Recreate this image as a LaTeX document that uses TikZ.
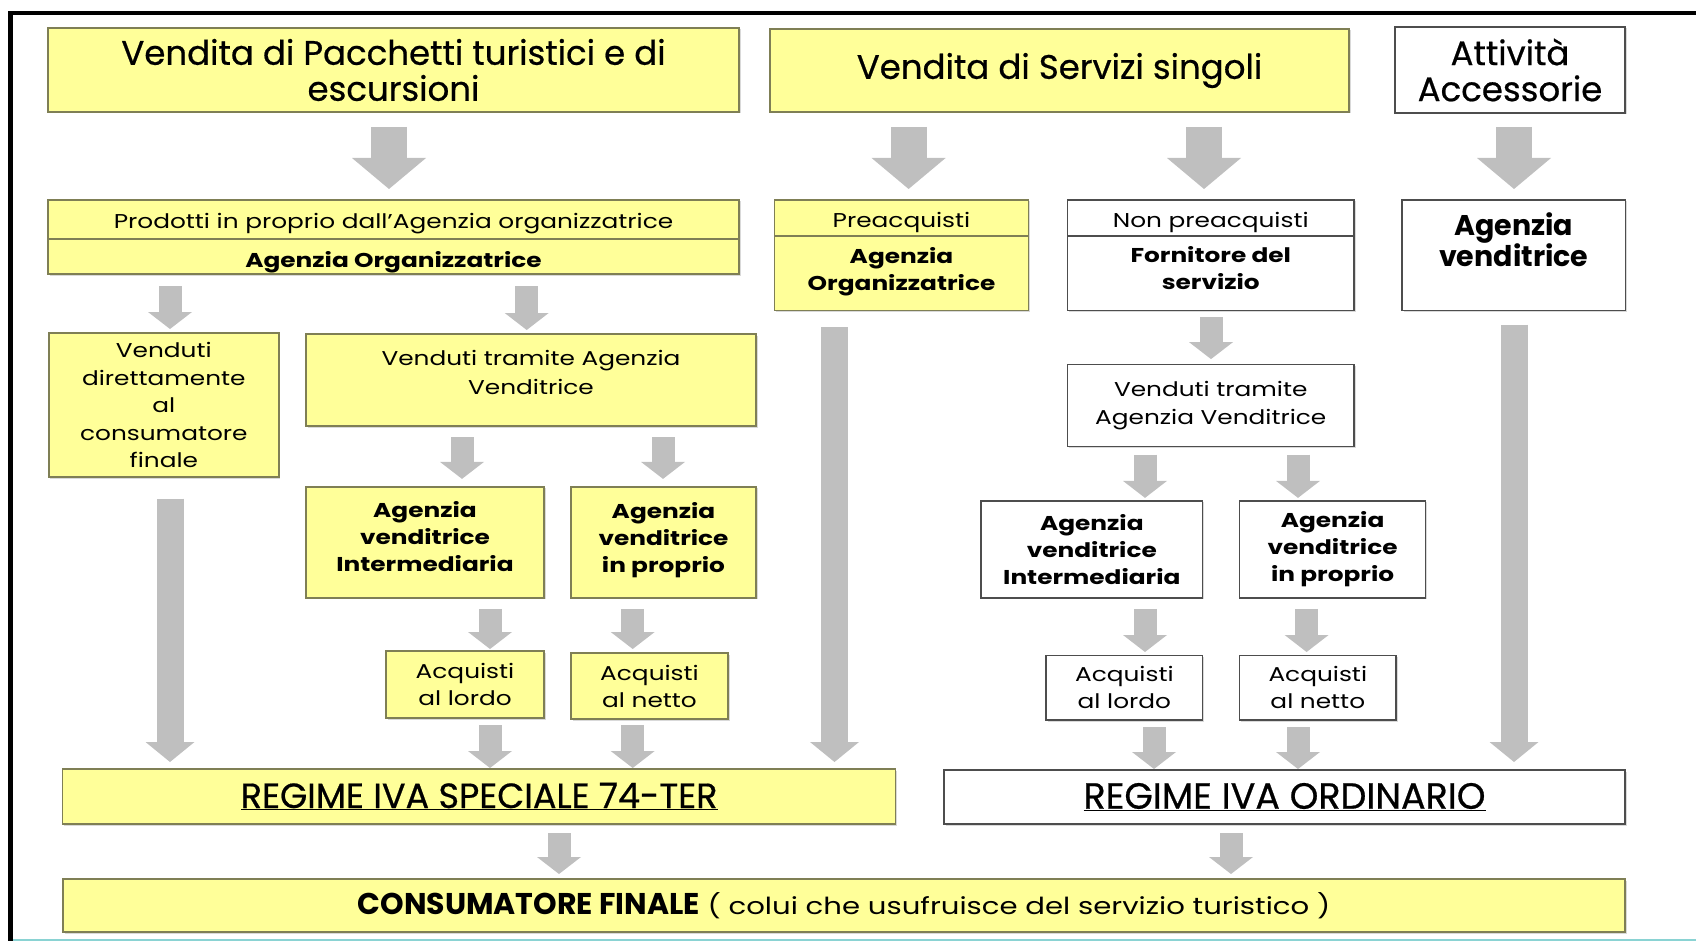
\documentclass[tikz,border=0pt]{standalone}
\usepackage{fontspec}
\setmainfont{Poppins}[FakeStretch=1.24]
\newfontfamily\titlefont[FakeBold=0.6]{Poppins}
\newfontfamily\plainfont{Poppins}
\usetikzlibrary{arrows.meta,positioning,shadows}
\definecolor{boxyellow}{HTML}{FFFF99}
\definecolor{yborder}{HTML}{7F7F55}
\definecolor{wborder}{HTML}{4D4D4D}
\definecolor{arrowgray}{HTML}{BFBFBF}
\definecolor{pagecyan}{HTML}{8AD3D3}
\newcommand{\fs}[2]{\fontsize{#1}{#2}\selectfont}

\begin{document}
\begin{tikzpicture}[line join=miter,x=1pt,y=-1pt,
  ybox/.style={draw=yborder,fill=boxyellow,line width=1.5pt,inner sep=0pt,outer sep=0pt,align=center,
    drop shadow={shadow xshift=1.5pt,shadow yshift=-1.5pt,opacity=0.3}},
  wbox/.style={ybox,draw=wborder,fill=white},
  bigarrow/.style={draw=arrowgray,line width=36pt,line cap=butt,-{Triangle[width=74pt,length=31pt,line width=0pt]}},
  smallarrow/.style={draw=arrowgray,line width=23pt,line cap=butt,-{Triangle[width=44pt,length=17pt,line width=0pt]}},
  longarrow/.style={draw=arrowgray,line width=27pt,line cap=butt,-{Triangle[width=49pt,length=20pt,line width=0pt]}}]
\useasboundingbox (0,0) rectangle (1696,941);
\draw [line width=4.5pt] (10.5,941)-- (10.5,13)-- (1696,13);
\draw [pagecyan,line width=1.5pt] (13,940)-- (1696,940);

\node[ybox,minimum width=691,minimum height=84,font={\titlefont\fs{34}{36}}] (pack) at (393.5,70) {Vendita di Pacchetti turistici e di\\escursioni};
\node[ybox,minimum width=579,minimum height=83,font={\titlefont\fs{34}{36}}] (serv) at (1059.5,70.5) {Vendita di Servizi singoli};
\node[wbox,minimum width=230,minimum height=86,font={\titlefont\fs{34}{36}}] (acc) at (1510,70) {Attività\\Accessorie};

\node[ybox,minimum width=691,minimum height=39,text height=23pt,text depth=5pt,font={\fs{20}{27}}] (prodtop) at (393.5,219.5) {Prodotti in proprio dall'Agenzia organizzatrice};
\node[ybox,minimum width=691,minimum height=35,text height=27pt,text depth=5pt,font={\bfseries\fs{20}{27}},below=0pt of prodtop] (prodorg) {Agenzia Organizzatrice};
\node[ybox,minimum width=254,minimum height=36,text height=25pt,text depth=5pt,font={\fs{20}{27}}] (pretop) at (901.5,218) {Preacquisti};
\node[ybox,minimum width=254,minimum height=74.5,font={\bfseries\fs{20}{27}},below=0pt of pretop] (preorg) {Agenzia\\Organizzatrice\\[-18pt]\mbox{}};
\node[wbox,minimum width=286.5,minimum height=36,text height=25pt,text depth=5pt,font={\fs{20}{27}}] (nonpre) at (1210.75,218) {Non preacquisti};
\node[wbox,minimum width=286.5,minimum height=74.5,font={\bfseries\fs{20}{27}},below=0pt of nonpre] (forn) {Fornitore del\\servizio\\[-17pt]\mbox{}};
\node[wbox,minimum width=223.5,minimum height=110.5,font={\plainfont\bfseries\fs{28.5}{31}}] (agvend) at (1513.75,255.25) {Agenzia\\venditrice\\\mbox{}};

\node[ybox,minimum width=230,minimum height=144,font={\fs{20}{27.5}}] (diretti) at (163.85,405) {Venduti\\direttamente\\al\\consumatore\\finale};
\node[ybox,minimum width=450,minimum height=92,font={\fs{20}{29}}] (tramite) at (531,380) {Venduti tramite Agenzia\\Venditrice\\[-14pt]\mbox{}};
\node[wbox,minimum width=286.5,minimum height=82,font={\fs{20}{28}}] (tramiteb) at (1210.75,405.6) {Venduti tramite\\Agenzia Venditrice};

\node[ybox,minimum width=238,minimum height=111,font={\bfseries\fs{20}{27}}] (intermA) at (425,542.4) {Agenzia\\venditrice\\Intermediaria\\[-16pt]\mbox{}};
\node[ybox,minimum width=185,minimum height=111,font={\bfseries\fs{20}{27}}] (propA) at (663.5,542.4) {Agenzia\\venditrice\\in proprio\\[-18pt]\mbox{}};
\node[wbox,minimum width=221.7,minimum height=97,font={\bfseries\fs{20}{27}}] (intermB) at (1091.85,549.4) {Agenzia\\venditrice\\Intermediaria};
\node[wbox,minimum width=186,minimum height=97,font={\bfseries\fs{20}{27}}] (propB) at (1332.6,549.4) {Agenzia\\venditrice\\in proprio};

\node[ybox,minimum width=158,minimum height=67,font={\fs{20}{27}}] (lordoA) at (465,684.5) {Acquisti\\al lordo};
\node[ybox,minimum width=157,minimum height=66,font={\fs{20}{27}}] (nettoA) at (649.5,686) {Acquisti\\al netto};
\node[wbox,minimum width=156.7,minimum height=64.5,font={\fs{20}{27}}] (lordoB) at (1124.35,687.75) {Acquisti\\al lordo};
\node[wbox,minimum width=156.4,minimum height=64.5,font={\fs{20}{27}}] (nettoB) at (1317.8,687.75) {Acquisti\\al netto};

\node[ybox,minimum width=833,minimum height=55,font={\titlefont\fs{35}{36}}] (speciale) at (479.15,796.5) {\underline{REGIME IVA SPECIALE 74-TER}};
\node[wbox,minimum width=681,minimum height=54,font={\titlefont\fs{36.5}{36}}] (ordinario) at (1284.5,797) {\underline{REGIME IVA ORDINARIO}};
\node[ybox,minimum width=1562,minimum height=53,font={\fs{23.5}{27}}] (finale) at (844,905.5) {{\plainfont\bfseries\fs{30}{30}CONSUMATORE FINALE} ( colui che usufruisce del servizio turistico )};

\coordinate (xpack) at (389,0);
\coordinate (xpre) at (908.6,0);
\coordinate (xnon) at (1204,0);
\coordinate (xacc) at (1514,0);
\coordinate (xdir) at (170,0);
\coordinate (xtra) at (526.7,0);
\coordinate (xorg) at (834.5,0);
\coordinate (xforn) at (1211,0);
\coordinate (xintA) at (462,0);
\coordinate (xpropA) at (663,0);
\coordinate (xintB) at (1145,0);
\coordinate (xpropB) at (1298,0);
\coordinate (xlorA) at (490,0);
\coordinate (xnetA) at (632.7,0);
\coordinate (xlorB) at (1154,0);
\coordinate (xnetB) at (1306.6,0);
\coordinate (xspec) at (559,0);
\coordinate (xord) at (1231,0);

\draw [bigarrow,shorten <=15pt,shorten >=11pt] (xpack |- pack.south)-- (xpack |- prodtop.north);
\draw [bigarrow,shorten <=15pt,shorten >=11pt] (xpre |- serv.south)-- (xpre |- pretop.north);
\draw [bigarrow,shorten <=15pt,shorten >=11pt] (xnon |- serv.south)-- (xnon |- nonpre.north);
\draw [bigarrow,shorten <=14pt,shorten >=11pt] (xacc |- acc.south)-- (xacc |- agvend.north);

\draw [smallarrow,shorten <=12pt,shorten >=4pt] (xdir |- prodorg.south)-- (xdir |- diretti.north);
\draw [smallarrow,shorten <=12pt,shorten >=4pt] (xtra |- prodorg.south)-- (xtra |- tramite.north);
\draw [smallarrow,shorten <=6.5pt,shorten >=5.5pt] (xforn |- forn.south)-- (xforn |- tramiteb.north);

\draw [longarrow,shorten <=16.5pt,shorten >=7pt] (xorg |- preorg.south)-- (xorg |- speciale.north);
\draw [longarrow,shorten <=14pt,shorten >=8pt] (xacc |- agvend.south)-- (xacc |- ordinario.north);
\draw [longarrow,shorten <=21.5pt,shorten >=7pt] (xdir |- diretti.south)-- (xdir |- speciale.north);

\draw [smallarrow,shorten <=11pt,shorten >=8pt] (xintA |- tramite.south)-- (xintA |- intermA.north);
\draw [smallarrow,shorten <=11pt,shorten >=8pt] (xpropA |- tramite.south)-- (xpropA |- propA.north);
\draw [smallarrow,shorten <=8pt,shorten >=3pt] (xintB |- tramiteb.south)-- (xintB |- intermB.north);
\draw [smallarrow,shorten <=8pt,shorten >=3pt] (xpropB |- tramiteb.south)-- (xpropB |- propB.north);

\draw [smallarrow,shorten <=11pt,shorten >=2pt] (xlorA |- intermA.south)-- (xlorA |- lordoA.north);
\draw [smallarrow,shorten <=11pt,shorten >=4pt] (xnetA |- propA.south)-- (xnetA |- nettoA.north);
\draw [smallarrow,shorten <=11pt,shorten >=3.5pt] (xintB |- intermB.south)-- (xintB |- lordoB.north);
\draw [smallarrow,shorten <=11pt,shorten >=3.5pt] (xnetB |- propB.south)-- (xnetB |- nettoB.north);

\draw [smallarrow,shorten <=7pt,shorten >=1pt] (xlorA |- lordoA.south)-- (xlorA |- speciale.north);
\draw [smallarrow,shorten <=6pt,shorten >=1pt] (xnetA |- nettoA.south)-- (xnetA |- speciale.north);
\draw [smallarrow,shorten <=7pt,shorten >=1pt] (xlorB |- lordoB.south)-- (xlorB |- ordinario.north);
\draw [smallarrow,shorten <=7pt,shorten >=1pt] (xpropB |- nettoB.south)-- (xpropB |- ordinario.north);

\draw [smallarrow,shorten <=9pt,shorten >=5pt] (xspec |- speciale.south)-- (xspec |- finale.north);
\draw [smallarrow,shorten <=9pt,shorten >=5pt] (xord |- ordinario.south)-- (xord |- finale.north);
\end{tikzpicture}
\end{document}
